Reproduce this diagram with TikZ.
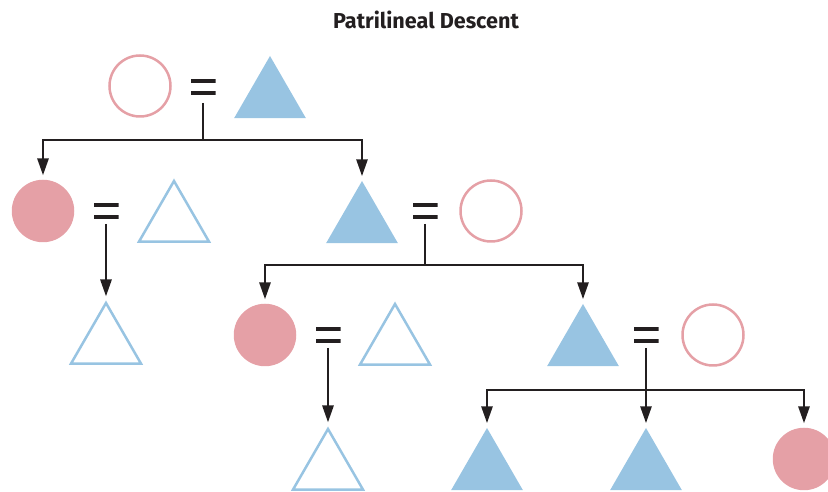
\documentclass[tikz,border=0pt]{standalone}
\usepackage{fontspec}
\setsansfont{Fira Sans}
\usetikzlibrary{arrows.meta, shapes.geometric}
\definecolor{kinPink}{RGB}{229,160,166}
\definecolor{kinBlue}{RGB}{152,196,226}
\definecolor{kinLine}{RGB}{35,31,32}

\begin{document}
\begin{tikzpicture}[
    woman/.style={circle, minimum size=1.22cm, inner sep=0, draw=kinPink, line width=0.05cm},
    womanLine/.style={circle, minimum size=1.25cm, inner sep=0, fill=kinPink},
    man/.style={regular polygon, regular polygon sides=3, minimum size=1.62cm, inner sep=0,
      draw=kinBlue, line width=0.05cm},
    manLine/.style={regular polygon, regular polygon sides=3, minimum size=1.66cm, inner sep=0,
      fill=kinBlue},
    eqsign/.style={rectangle, minimum width=0.5cm, minimum height=0.32cm, inner sep=0, outer sep=0,
      path picture={
        \fill[kinLine] (path picture bounding box.north west) rectangle
          ([yshift=-0.08cm]path picture bounding box.north east);
        \fill[kinLine] (path picture bounding box.south west) rectangle
          ([yshift=0.08cm]path picture bounding box.south east);}},
    link/.style={kinLine, line width=0.055cm},
    arr/.style={link, -{Triangle[length=0.34cm, width=0.22cm]}, shorten >=0.08cm}
  ]
  \useasboundingbox (0,0) rectangle (16.56,9.84);
  \node[font=\sffamily\bfseries\fontsize{12.3}{14}\selectfont, text=kinLine] (title) at (8.52,9.44)
    {Patrilineal Descent};

  % First generation
  \node[woman] (c1) at (2.80,8.12) {};
  \node[eqsign] (e0) at (4.06,8.09) {};
  \node[manLine] (t0) at (5.40,7.89) {};
  \coordinate (j0) at (4.06,7.04);

  % Second generation
  \node[womanLine] (c2) at (0.86,5.62) {};
  \node[eqsign] (e1) at (2.12,5.62) {};
  \node[man] (t1) at (3.48,5.41) {};
  \node[manLine] (t2) at (7.24,5.39) {};
  \node[eqsign] (e2) at (8.50,5.62) {};
  \node[woman] (c3) at (9.82,5.62) {};
  \coordinate (j2) at (8.50,4.54);

  % Third generation
  \node[man] (t3) at (2.12,2.97) {};
  \node[womanLine] (c4) at (5.30,3.14) {};
  \node[eqsign] (e3) at (6.56,3.14) {};
  \node[man] (t4) at (7.90,2.95) {};
  \node[manLine] (t5) at (11.66,2.93) {};
  \node[eqsign] (e4) at (12.92,3.14) {};
  \node[woman] (c5) at (14.26,3.14) {};
  \coordinate (j4) at (12.92,2.04);

  % Fourth generation
  \node[man] (t6) at (6.56,0.45) {};
  \node[manLine] (t7) at (9.74,0.45) {};
  \node[manLine] (t8) at (12.92,0.45) {};
  \node[womanLine] (c6) at (16.08,0.66) {};

  % Descent lines
  \draw[link] ([yshift=-0.15cm]e0.south) -- (j0);
  \draw[arr] (j0) -| (c2);
  \draw[arr] (j0) -| (t2);
  \draw[arr] ([yshift=-0.1cm]e1.south) -- (t3);
  \draw[link] ([yshift=-0.1cm]e2.south) -- (j2);
  \draw[arr] (j2) -| (c4);
  \draw[arr] (j2) -| (t5);
  \draw[arr] ([yshift=-0.1cm]e3.south) -- (t6);
  \draw[arr] ([yshift=-0.1cm]e4.south) -- (t8);
  \draw[arr] (j4) -| (t7);
  \draw[arr] (j4) -| (c6);
\end{tikzpicture}
\end{document}
